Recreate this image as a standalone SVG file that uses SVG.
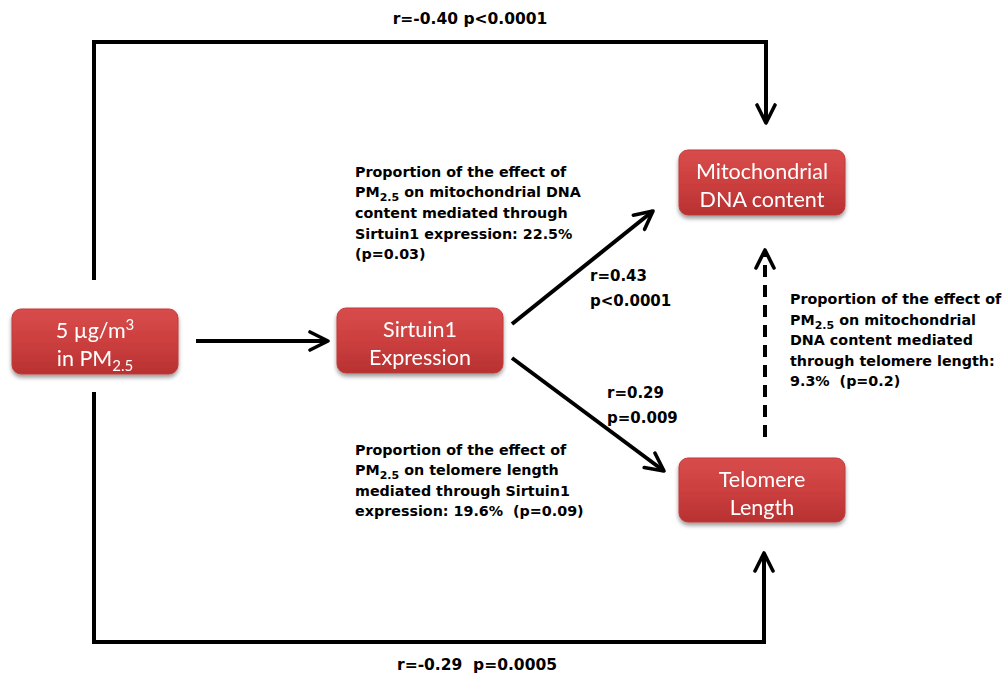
<svg xmlns="http://www.w3.org/2000/svg" width="1003" height="678" viewBox="0 0 1003 678">
<style>
.lbl{font-family:"DejaVu Sans",Verdana,sans-serif;font-weight:bold;font-size:14.3px;fill:#000}
.r{font-size:15px}
.tb{font-size:15.5px}
.box text{font-family:Lato,"Open Sans",sans-serif;font-size:21.5px;fill:#fff;text-anchor:middle}
.ln{stroke:#000;stroke-width:4;fill:none}
</style>
<defs>
<linearGradient id="g" x1="0" y1="0" x2="0" y2="1">
<stop offset="0" stop-color="#d84c4c"/>
<stop offset="0.5" stop-color="#cc3f3f"/>
<stop offset="1" stop-color="#b83131"/>
</linearGradient>
<filter id="sh" x="-10%" y="-10%" width="120%" height="140%">
<feGaussianBlur in="SourceAlpha" stdDeviation="2"/>
<feOffset dy="3"/>
<feComponentTransfer><feFuncA type="linear" slope="0.4"/></feComponentTransfer>
<feMerge><feMergeNode/><feMergeNode in="SourceGraphic"/></feMerge>
</filter>
<marker id="ah" viewBox="0 0 12 12" refX="10" refY="6" markerWidth="6" markerHeight="6" orient="auto" markerUnits="strokeWidth">
<path d="M1,1.5 L10,6 L1,10.5" fill="none" stroke="#000" stroke-width="1.8" stroke-linecap="round" stroke-linejoin="round"/>
</marker>
</defs>
<g id="connectors">
<path class="ln" d="M94,280 V42 H766 V123" marker-end="url(#ah)"/>
<path class="ln" d="M94,392 V642 H764 V553" marker-end="url(#ah)"/>
<path class="ln" d="M196,341 H328" marker-end="url(#ah)"/>
<path class="ln" d="M512,324 L653,211" marker-end="url(#ah)"/>
<path class="ln" d="M512,358 L664,471" marker-end="url(#ah)"/>
<path class="ln" d="M765,437 V250" stroke-dasharray="12,8" marker-end="url(#ah)"/>
</g>
<g id="n1" class="box" filter="url(#sh)">
<rect x="12" y="309" width="166" height="65" rx="9" fill="url(#g)" stroke="#c03a3a"/>
<text x="95" y="338">5 µg/m<tspan dy="-8" font-size="15">3</tspan></text>
<text x="95" y="366">in PM<tspan dy="5" font-size="15">2.5</tspan></text>
</g>
<g id="n2" class="box" filter="url(#sh)">
<rect x="337" y="308" width="166" height="65" rx="9" fill="url(#g)" stroke="#c03a3a"/>
<text x="420" y="337">Sirtuin1</text>
<text x="420" y="365">Expression</text>
</g>
<g id="n3" class="box" filter="url(#sh)">
<rect x="679" y="150" width="166" height="65" rx="9" fill="url(#g)" stroke="#c03a3a"/>
<text x="762" y="179">Mitochondrial</text>
<text x="762" y="207">DNA content</text>
</g>
<g id="n4" class="box" filter="url(#sh)">
<rect x="679" y="458" width="166" height="64" rx="9" fill="url(#g)" stroke="#c03a3a"/>
<text x="762" y="487">Telomere</text>
<text x="762" y="515">Length</text>
</g>
<g id="labels">
<text class="lbl tb" x="470" y="24" text-anchor="middle">r=-0.40 p&lt;0.0001</text>
<text class="lbl tb" x="477" y="670" text-anchor="middle" xml:space="preserve">r=-0.29  p=0.0005</text>
<text class="lbl r" x="590" y="281">r=0.43</text>
<text class="lbl r" x="590" y="306">p&lt;0.0001</text>
<text class="lbl r" x="607" y="398">r=0.29</text>
<text class="lbl r" x="607" y="423">p=0.009</text>
<text class="lbl" x="355" y="177">Proportion of the effect of</text>
<text class="lbl" x="355" y="197">PM<tspan dy="4" font-size="11">2.5</tspan><tspan dy="-4"> on mitochondrial DNA</tspan></text>
<text class="lbl" x="355" y="218">content mediated through</text>
<text class="lbl" x="355" y="239">Sirtuin1 expression: 22.5%</text>
<text class="lbl" x="355" y="259">(p=0.03)</text>
<text class="lbl" x="355" y="455">Proportion of the effect of</text>
<text class="lbl" x="355" y="475">PM<tspan dy="4" font-size="11">2.5</tspan><tspan dy="-4"> on telomere length</tspan></text>
<text class="lbl" x="355" y="496">mediated through Sirtuin1</text>
<text class="lbl" x="355" y="516" xml:space="preserve">expression: 19.6%  (p=0.09)</text>
<text class="lbl" x="790" y="304">Proportion of the effect of</text>
<text class="lbl" x="790" y="325">PM<tspan dy="4" font-size="11">2.5</tspan><tspan dy="-4"> on mitochondrial</tspan></text>
<text class="lbl" x="790" y="345">DNA content mediated</text>
<text class="lbl" x="790" y="366">through telomere length:</text>
<text class="lbl" x="790" y="386" xml:space="preserve">9.3%  (p=0.2)</text>
</g>
</svg>
